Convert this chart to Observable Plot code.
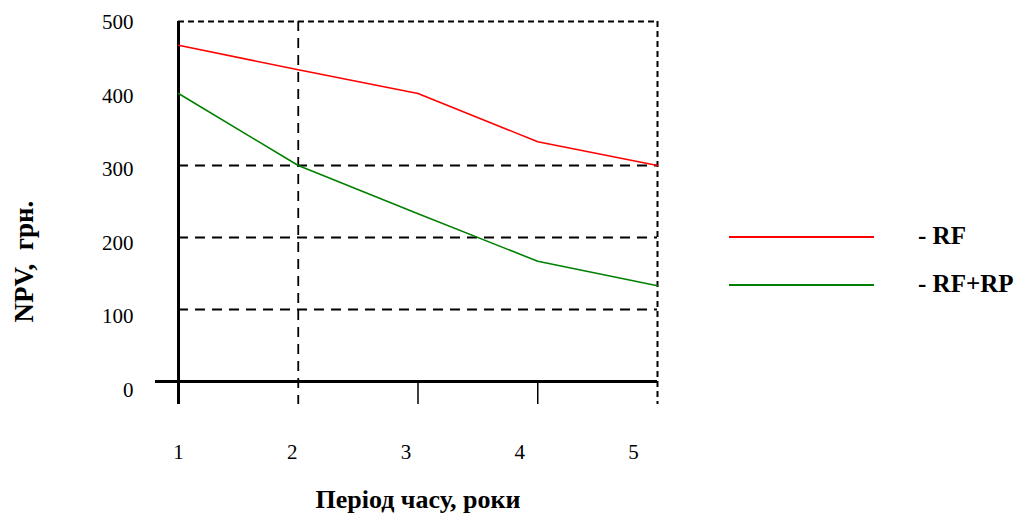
<!DOCTYPE html>
<html><head><meta charset="utf-8">
<script src="https://cdn.jsdelivr.net/npm/d3@7"></script>
<script src="https://cdn.jsdelivr.net/npm/@observablehq/plot@0.6"></script>
<style>
body{margin:0;background:#fff;}
#wrap{position:relative;width:1022px;height:521px;overflow:hidden;}
#wrap svg g[aria-label$="tick label"]{font-size:21px !important;}
.leg{position:absolute;font-family:"Liberation Serif","Times New Roman",serif;font-weight:bold;font-size:25px;line-height:1;white-space:pre;color:#000;}
.legline{position:absolute;height:2px;width:145px;}
</style></head><body><div id="wrap"></div>
<script>
const years = [1, 2, 3, 4, 5];
const rf = [467, 433, 400, 333, 300];
const rfrp = [400, 300, 233, 167, 133];
const yTicks = [0, 100, 200, 300, 400, 500];
const gridValues = [100, 200, 300];
const seriesNames = ["- RF", "- RF+RP"];
const seriesColors = ["#ff0000", "#008000"];
const xLabel = "Період часу, роки";
const yLabel = "NPV,  грн.";

const data = years.flatMap((yr, i) => [
  {year: yr, value: rf[i], series: seriesNames[0]},
  {year: yr, value: rfrp[i], series: seriesNames[1]}
]);
const font = '"Liberation Serif", "Times New Roman", serif';

const chart = Plot.plot({
  width: 1022, height: 521,
  marginLeft: 178, marginRight: 365, marginTop: 21, marginBottom: 140,
  style: {fontFamily: font, fontSize: "21px", background: "#fff", overflow: "visible", color: "#000"},
  x: {domain: [1, 5]},
  y: {domain: [0, 500]},
  color: {domain: seriesNames, range: seriesColors},
  marks: [
    Plot.ruleY(gridValues, {stroke: "#000", strokeWidth: 1.8, strokeDasharray: "10,7"}),
    Plot.ruleY([500], {stroke: "#000", strokeWidth: 2, strokeDasharray: "6,4"}),
    Plot.ruleX([2], {stroke: "#000", strokeWidth: 1.8, strokeDasharray: "10,7", insetBottom: -23}),
    Plot.ruleX([5], {stroke: "#000", strokeWidth: 2, strokeDasharray: "6,4", insetBottom: -23}),
    Plot.axisX({ticks: [3, 4], tickSize: 23, strokeWidth: 1.5, text: null, label: null}),
    ...years.map((t, i) => Plot.axisX({ticks: [t], tickFormat: "d", tickSize: 0, tickPadding: 63, label: null, dx: -6 * i, fontSize: 21})),
    ...yTicks.map(v => Plot.axisY({ticks: [v], tickFormat: "d", tickSize: 0, tickPadding: 45, label: null, dy: 1 + 1.5 * (5 - v / 100), fontSize: 21})),
    Plot.ruleY([0], {stroke: "#000", strokeWidth: 3, insetLeft: -23}),
    Plot.ruleX([1], {stroke: "#000", strokeWidth: 3, insetBottom: -23}),
    Plot.line(data, {x: "year", y: "value", stroke: "series", strokeWidth: 1.6}),
    Plot.text([xLabel], {frameAnchor: "bottom", dx: 0, dy: 126, fontWeight: "bold", fontSize: 26}),
    Plot.text([yLabel], {frameAnchor: "left", rotate: -90, dx: -154, dy: 121, fontWeight: "bold", fontSize: 27})
  ]
});
const wrap = document.getElementById("wrap");
wrap.appendChild(chart);

const legendTop = [237, 285];
seriesNames.forEach((name, i) => {
  const ln = document.createElement("div");
  ln.className = "legline";
  ln.style.left = "729px";
  ln.style.top = (legendTop[i] - 1) + "px";
  ln.style.background = seriesColors[i];
  wrap.appendChild(ln);
  const tx = document.createElement("div");
  tx.className = "leg";
  tx.style.left = "918px";
  tx.style.top = (legendTop[i] - 14) + "px";
  tx.textContent = name;
  wrap.appendChild(tx);
});
</script></body></html>
